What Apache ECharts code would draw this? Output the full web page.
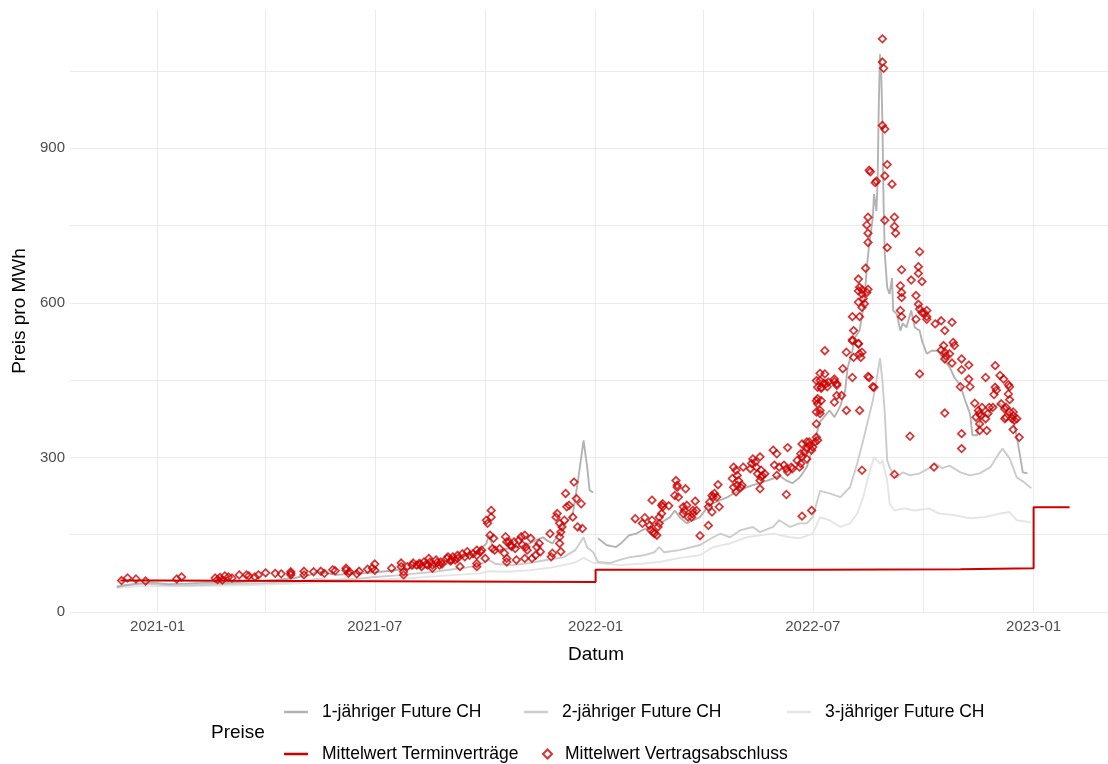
<!DOCTYPE html>
<html><head><meta charset="utf-8">
<script src="https://cdn.jsdelivr.net/npm/echarts@6/dist/echarts.min.js"></script>
<style>html,body{margin:0;padding:0;background:#fff}#chart{width:1108px;height:764px}</style>
</head><body><div id="chart"></div>
<script>
const seriesNames = ['1-jähriger Future CH','2-jähriger Future CH','3-jähriger Future CH','Mittelwert Terminverträge','Mittelwert Vertragsabschluss'];
const xRange = ['2020-10-20','2023-03-04'];
const xTickDates = ['2021-01-01','2021-04-01','2021-07-01','2021-10-01','2022-01-01','2022-04-01','2022-07-01','2022-10-01','2023-01-01'];
const xLabelDates = ['2021-01-01','2021-07-01','2022-01-01','2022-07-01','2023-01-01'];
const yTickValues = [0,150,300,450,600,750,900,1050];
const yLabelValues = [0,300,600,900];

const future1y2021 = [['2020-11-28',48],['2020-12-05',52],['2020-12-15',55],['2020-12-28',57],['2021-01-10',54],['2021-01-25',55],['2021-02-10',57],['2021-02-25',56],['2021-03-10',58],['2021-03-25',60],['2021-04-10',62],['2021-04-25',66],['2021-05-08',72],['2021-05-14',79],['2021-05-20',76],['2021-05-30',72],['2021-06-10',74],['2021-06-20',75],['2021-07-01',77],['2021-07-15',80],['2021-07-28',84],['2021-08-10',86],['2021-08-20',89],['2021-09-01',95],['2021-09-12',106],['2021-09-20',112],['2021-09-26',120],['2021-10-02',133],['2021-10-04',149],['2021-10-07',130],['2021-10-10',120],['2021-10-17',122],['2021-10-24',124],['2021-11-01',128],['2021-11-07',133],['2021-11-13',140],['2021-11-18',145],['2021-11-22',138],['2021-11-26',133],['2021-12-01',150],['2021-12-05',165],['2021-12-10',180],['2021-12-13',191],['2021-12-17',250],['2021-12-20',300],['2021-12-22',333],['2021-12-25',281],['2021-12-27',236],['2021-12-30',232]];

const future1y2022 = [['2022-01-03',143],['2022-01-10',130],['2022-01-18',126],['2022-01-23',135],['2022-01-29',149],['2022-02-04',152],['2022-02-09',159],['2022-02-15',165],['2022-02-21',172],['2022-02-25',174],['2022-03-04',184],['2022-03-08',197],['2022-03-12',184],['2022-03-18',172],['2022-03-23',178],['2022-03-29',184],['2022-04-04',203],['2022-04-09',211],['2022-04-15',217],['2022-04-21',223],['2022-04-26',230],['2022-05-02',236],['2022-05-07',242],['2022-05-12',246],['2022-05-18',250],['2022-05-24',255],['2022-05-29',259],['2022-06-03',265],['2022-06-09',255],['2022-06-14',250],['2022-06-20',261],['2022-06-26',281],['2022-07-01',319],['2022-07-07',369],['2022-07-15',391],['2022-07-19',378],['2022-07-24',400],['2022-07-28',430],['2022-07-30',474],['2022-08-03',507],['2022-08-05',532],['2022-08-09',546],['2022-08-13',604],['2022-08-15',668],['2022-08-17',714],['2022-08-20',765],['2022-08-21',811],['2022-08-23',778],['2022-08-24',836],['2022-08-25',985],['2022-08-26',1082],['2022-08-27',1049],['2022-08-28',952],['2022-08-29',792],['2022-08-30',695],['2022-09-01',629],['2022-09-03',617],['2022-09-05',648],['2022-09-06',585],['2022-09-09',578],['2022-09-12',546],['2022-09-14',560],['2022-09-17',552],['2022-09-21',585],['2022-09-24',552],['2022-09-28',546],['2022-09-30',526],['2022-10-04',501],['2022-10-08',507],['2022-10-13',507],['2022-10-17',494],['2022-10-23',475],['2022-10-27',455],['2022-11-01',440],['2022-11-05',410],['2022-11-09',385],['2022-11-11',343],['2022-11-15',343],['2022-11-17',366],['2022-11-19',391],['2022-11-23',378],['2022-11-28',397],['2022-12-04',404],['2022-12-10',391],['2022-12-15',372],['2022-12-18',339],['2022-12-20',313],['2022-12-23',271],['2022-12-27',269]];

const future2y = [['2020-11-28',50],['2020-12-10',53],['2020-12-20',55],['2021-01-10',52],['2021-01-25',52],['2021-02-15',53],['2021-03-01',54],['2021-03-20',55],['2021-04-15',57],['2021-05-01',59],['2021-05-13',64],['2021-05-25',62],['2021-06-15',64],['2021-07-01',68],['2021-07-20',71],['2021-08-01',74],['2021-08-20',78],['2021-09-01',82],['2021-09-15',86],['2021-09-26',91],['2021-10-04',101],['2021-10-10',93],['2021-10-24',91],['2021-11-07',95],['2021-11-21',101],['2021-12-05',106],['2021-12-15',120],['2021-12-22',145],['2021-12-25',125],['2021-12-30',116],['2022-01-03',97],['2022-01-13',95],['2022-01-21',101],['2022-01-29',106],['2022-02-10',110],['2022-02-19',116],['2022-02-23',126],['2022-02-27',116],['2022-03-12',120],['2022-03-29',130],['2022-04-09',145],['2022-04-15',152],['2022-04-23',145],['2022-05-02',159],['2022-05-12',165],['2022-05-18',155],['2022-05-29',165],['2022-06-03',178],['2022-06-12',165],['2022-06-20',172],['2022-06-26',172],['2022-07-01',184],['2022-07-07',235],['2022-07-15',230],['2022-07-24',223],['2022-08-01',242],['2022-08-07',288],['2022-08-12',333],['2022-08-16',372],['2022-08-20',410],['2022-08-23',449],['2022-08-26',492],['2022-08-28',449],['2022-08-30',385],['2022-09-01',294],['2022-09-03',281],['2022-09-06',269],['2022-09-09',261],['2022-09-14',271],['2022-09-20',265],['2022-09-28',269],['2022-10-06',279],['2022-10-11',288],['2022-10-17',279],['2022-10-23',284],['2022-11-01',271],['2022-11-09',265],['2022-11-17',269],['2022-11-26',281],['2022-12-01',300],['2022-12-06',317],['2022-12-12',298],['2022-12-18',261],['2022-12-24',252],['2022-12-30',240]];

const future3y = [['2020-11-28',47],['2020-12-15',50],['2021-01-15',50],['2021-02-15',51],['2021-03-15',52],['2021-04-15',54],['2021-05-15',57],['2021-06-15',59],['2021-07-01',62],['2021-08-01',66],['2021-09-01',71],['2021-09-26',75],['2021-10-04',79],['2021-10-20',78],['2021-11-07',81],['2021-11-25',86],['2021-12-05',91],['2021-12-15',96],['2021-12-22',105],['2021-12-30',95],['2022-01-03',95],['2022-01-21',91],['2022-02-10',94],['2022-02-23',97],['2022-03-12',105],['2022-03-29',110],['2022-04-09',126],['2022-04-23',133],['2022-05-07',145],['2022-05-18',149],['2022-05-29',152],['2022-06-12',145],['2022-06-20',143],['2022-07-01',152],['2022-07-07',184],['2022-07-15',178],['2022-07-24',165],['2022-08-01',172],['2022-08-07',191],['2022-08-12',223],['2022-08-17',269],['2022-08-21',300],['2022-08-26',288],['2022-08-28',294],['2022-09-01',255],['2022-09-03',211],['2022-09-07',197],['2022-09-15',201],['2022-09-24',197],['2022-10-06',201],['2022-10-14',191],['2022-10-27',188],['2022-11-09',182],['2022-11-21',184],['2022-12-04',191],['2022-12-12',194],['2022-12-18',178],['2022-12-30',174]];

const terminMean = [['2020-12-01',61],['2021-01-01',58],['2022-01-01',82],['2022-07-01',83],['2022-11-01',85],['2023-01-01',203],['2023-01-31',203]];

const abschluss = [
['2020-12-02',61],['2020-12-07',66],['2020-12-14',64],['2020-12-22',60],['2021-01-17',64],['2021-01-21',68],
['2021-02-18',66],['2021-02-20',63],['2021-02-22',67],['2021-02-24',62],['2021-02-26',70],['2021-03-01',68],['2021-03-04',66],
['2021-03-10',72],['2021-03-16',72],['2021-03-18',70],['2021-03-23',68],['2021-03-26',72],
['2021-04-01',76],['2021-04-09',75],['2021-04-14',74],['2021-04-22',72],['2021-04-22',78],['2021-04-22',75],
['2021-05-03',79],['2021-05-03',72],['2021-05-11',78],['2021-05-17',79],['2021-05-20',75],['2021-05-27',82],['2021-05-29',80],
['2021-06-07',85],['2021-06-07',81],['2021-06-09',75],['2021-06-10',78],['2021-06-16',74],['2021-06-18',79],['2021-06-25',83],['2021-06-29',85],['2021-07-01',93],['2021-07-01',81],
['2021-07-15',85],['2021-07-23',95],['2021-07-23',88],['2021-07-25',78],['2021-07-25',72],['2021-07-28',88],
['2021-08-01',91],['2021-08-02',95],['2021-08-05',91],['2021-08-07',94],['2021-08-08',93],['2021-08-09',88],['2021-08-11',97],['2021-08-13',93],['2021-08-14',91],['2021-08-15',104],['2021-08-16',97],['2021-08-18',91],['2021-08-18',85],['2021-08-21',101],['2021-08-22',96],['2021-08-24',91],['2021-08-25',97],['2021-08-26',93],['2021-08-30',104],['2021-08-31',107],
['2021-09-02',99],['2021-09-03',101],['2021-09-04',107],['2021-09-06',101],['2021-09-08',110],['2021-09-08',104],['2021-09-10',88],['2021-09-12',113],['2021-09-14',107],['2021-09-16',117],['2021-09-18',110],['2021-09-21',113],['2021-09-24',120],['2021-09-24',110],['2021-09-24',94],['2021-09-24',88],['2021-09-27',117],['2021-09-28',120],
['2021-10-01',104],['2021-10-02',178],['2021-10-03',172],['2021-10-05',149],['2021-10-06',197],['2021-10-06',184],['2021-10-08',143],['2021-10-07',123],['2021-10-09',120],['2021-10-13',123],['2021-10-17',114],['2021-10-18',146],['2021-10-19',136],['2021-10-19',97],['2021-10-19',104],['2021-10-21',136],['2021-10-22',130],['2021-10-23',127],['2021-10-25',136],['2021-10-26',123],['2021-10-27',101],['2021-10-29',139],['2021-10-31',146],
['2021-11-01',130],['2021-11-03',149],['2021-11-03',104],['2021-11-04',126],['2021-11-05',120],['2021-11-08',143],['2021-11-09',104],['2021-11-12',110],['2021-11-13',126],['2021-11-15',133],['2021-11-16',117],['2021-11-24',152],['2021-11-25',107],['2021-11-26',114],['2021-11-29',184],['2021-11-30',191],
['2021-12-02',172],['2021-12-02',146],['2021-12-02',133],['2021-12-03',117],['2021-12-03',155],['2021-12-04',165],['2021-12-06',178],['2021-12-07',230],['2021-12-08',204],['2021-12-10',207],['2021-12-13',184],['2021-12-14',252],['2021-12-16',220],['2021-12-17',165],['2021-12-20',210],['2021-12-21',162],
['2022-02-03',181],['2022-02-09',172],['2022-02-11',183],['2022-02-15',168],['2022-02-16',159],['2022-02-17',217],['2022-02-17',178],['2022-02-18',155],['2022-02-19',152],['2022-02-21',149],['2022-02-22',165],['2022-02-23',172],['2022-02-23',184],['2022-02-25',191],['2022-02-25',207],['2022-02-26',210],['2022-02-26',204],
['2022-03-03',206],['2022-03-08',226],['2022-03-09',255],['2022-03-10',246],['2022-03-10',242],['2022-03-11',223],['2022-03-15',204],['2022-03-15',191],['2022-03-16',197],['2022-03-17',239],['2022-03-18',207],['2022-03-19',184],['2022-03-22',184],['2022-03-23',197],['2022-03-23',191],['2022-03-25',215],['2022-03-26',197],['2022-03-29',148],
['2022-04-05',168],['2022-04-05',204],['2022-04-06',213],['2022-04-08',226],['2022-04-08',194],['2022-04-09',223],['2022-04-10',230],['2022-04-12',223],['2022-04-13',247],['2022-04-14',204],
['2022-04-25',259],['2022-04-26',281],['2022-04-26',242],['2022-04-28',275],['2022-04-28',233],['2022-04-29',265],['2022-04-29',246],['2022-04-30',255],['2022-05-02',242],['2022-05-03',246],['2022-05-04',281],
['2022-05-10',278],['2022-05-11',288],['2022-05-12',297],['2022-05-14',291],['2022-05-15',281],['2022-05-16',268],['2022-05-18',255],['2022-05-18',239],['2022-05-18',301],['2022-05-19',262],['2022-05-19',275],['2022-05-20',265],['2022-05-22',268],
['2022-05-29',314],['2022-05-30',285],['2022-06-01',307],['2022-06-01',265],['2022-06-03',281],['2022-06-07',285],['2022-06-09',278],['2022-06-09',228],['2022-06-10',272],['2022-06-10',319],['2022-06-13',281],['2022-06-14',278],
['2022-06-18',294],['2022-06-20',281],['2022-06-21',288],['2022-06-21',307],['2022-06-22',301],['2022-06-22',326],['2022-06-22',186],['2022-06-24',310],['2022-06-26',317],['2022-06-26',330],['2022-06-26',297],['2022-06-28',323],['2022-06-28',330],['2022-06-30',314],['2022-06-30',197],['2022-07-01',320],['2022-07-03',330],['2022-07-04',339],['2022-07-05',333],
['2022-07-04',449],['2022-07-04',410],['2022-07-04',388],['2022-07-04',365],['2022-07-05',436],['2022-07-05',404],['2022-07-05',414],['2022-07-07',385],['2022-07-07',391],['2022-07-07',449],['2022-07-07',463],['2022-07-08',410],['2022-07-08',436],['2022-07-08',434],['2022-07-10',444],['2022-07-11',462],['2022-07-11',507],['2022-07-12',443],['2022-07-13',437],['2022-07-14',446],['2022-07-19',452],['2022-07-19',407],['2022-07-19',447],['2022-07-21',443],['2022-07-21',420],['2022-07-21',440],['2022-07-25',420],['2022-07-26',472],['2022-07-29',504],['2022-07-29',391],
['2022-08-03',455],['2022-08-03',526],['2022-08-03',573],['2022-08-03',528],['2022-08-04',494],['2022-08-04',546],['2022-08-08',520],['2022-08-08',521],['2022-08-08',601],['2022-08-08',623],['2022-08-08',646],['2022-08-09',501],['2022-08-09',391],['2022-08-09',573],['2022-08-09',630],['2022-08-10',494],['2022-08-11',504],['2022-08-11',591],['2022-08-11',617],['2022-08-11',625],['2022-08-11',275],['2022-08-12',608],['2022-08-13',598],['2022-08-14',667],['2022-08-15',620],['2022-08-15',751],['2022-08-16',626],['2022-08-16',766],['2022-08-16',735],['2022-08-16',717],['2022-08-16',457],['2022-08-17',455],['2022-08-17',857],['2022-08-18',854],['2022-08-20',437],['2022-08-21',436],['2022-08-22',833],['2022-08-23',836],
['2022-08-28',1112],['2022-08-28',1067],['2022-08-29',1055],['2022-08-28',944],['2022-08-30',937],['2022-08-30',846],['2022-08-30',760],['2022-09-01',868],['2022-09-01',707],['2022-09-05',830],['2022-09-07',766],['2022-09-07',748],['2022-09-08',735],['2022-09-07',267],
['2022-09-12',633],['2022-09-12',585],['2022-09-13',620],['2022-09-13',610],['2022-09-13',573],['2022-09-13',664],['2022-09-20',341],['2022-09-21',644],['2022-09-25',614],['2022-09-25',568],['2022-09-27',670],['2022-09-27',657],['2022-09-27',597],['2022-09-28',699],['2022-09-28',588],['2022-09-28',462],['2022-09-30',641],['2022-09-30',581],['2022-10-02',580],['2022-10-04',585],['2022-10-04',568],['2022-10-04',573],
['2022-10-10',281],['2022-10-11',559],['2022-10-16',565],['2022-10-16',508],['2022-10-18',517],['2022-10-19',546],['2022-10-19',504],['2022-10-19',491],['2022-10-19',386],['2022-10-20',497],['2022-10-23',501],['2022-10-25',562],['2022-10-25',483],['2022-10-26',523],['2022-10-27',517],
['2022-11-01',437],['2022-11-02',491],['2022-11-02',470],['2022-11-02',346],['2022-11-02',317],['2022-11-08',479],['2022-11-08',452],['2022-11-09',437],
['2022-11-13',405],['2022-11-14',378],['2022-11-16',391],['2022-11-17',385],['2022-11-17',365],['2022-11-17',352],['2022-11-18',381],['2022-11-19',397],['2022-11-22',375],['2022-11-22',455],['2022-11-23',352],['2022-11-24',385],['2022-11-25',397],['2022-11-28',397],['2022-11-29',422],['2022-11-30',478],['2022-11-30',436],['2022-12-01',430],
['2022-12-04',459],['2022-12-05',404],['2022-12-07',452],['2022-12-08',375],['2022-12-08',394],['2022-12-09',397],['2022-12-09',378],['2022-12-11',441],['2022-12-11',423],['2022-12-12',437],['2022-12-12',412],['2022-12-12',388],['2022-12-14',375],['2022-12-15',381],['2022-12-15',354],['2022-12-15',388],['2022-12-16',372],['2022-12-18',375],['2022-12-20',339]
];

const FONT = '"Liberation Sans", Arial, sans-serif';
const GRID = '#EBEBEB';
const RED = '#CD0000';
const GREYS = ['#B3B3B3', '#CCCCCC', '#E5E5E5'];

function ts(s) {
  const p = s.split('-').map(Number);
  return new Date(p[0], p[1] - 1, p[2]).getTime();
}
function toXY(arr) { return arr.map(d => [ts(d[0]), d[1]]); }
function fmtMonth(v) {
  const d = new Date(v);
  return d.getFullYear() + '-' + String(d.getMonth() + 1).padStart(2, '0');
}

const chart = echarts.init(document.getElementById('chart'), null, {renderer: 'canvas'});

const legendText = {fontFamily: FONT, fontSize: 17.5, color: '#000', padding: [0, 0, 0, 9]};
const lineLegend = (name, left, top) => ({
  orient: 'horizontal', padding: 0, selectedMode: false,
  left, top, itemWidth: 24, itemHeight: 2.5,
  data: [{name, icon: 'rect'}],
  textStyle: legendText
});

const lineSeries = (name, data, color, z) => ({
  name, type: 'line', data: toXY(data), symbol: 'none', showSymbol: false, z,
  lineStyle: {color, width: 1.9}, itemStyle: {color}, animation: false
});

const option = {
  animation: false,
  backgroundColor: '#fff',
  grid: {left: 70, right: 0, top: 10, bottom: 152, containLabel: false},
  xAxis: {
    type: 'value',
    min: ts(xRange[0]), max: ts(xRange[1]),
    name: 'Datum', nameLocation: 'middle', nameGap: 33,
    nameTextStyle: {fontFamily: FONT, fontSize: 19, color: '#000', padding: [0, 0, 0, 14]},
    axisLine: {show: false},
    axisTick: {show: false, customValues: xTickDates.map(ts)},
    axisLabel: {customValues: xLabelDates.map(ts), formatter: fmtMonth, fontFamily: FONT, fontSize: 15, color: '#4D4D4D', margin: 7},
    splitLine: {show: true, lineStyle: {color: GRID, width: 1}}
  },
  yAxis: {
    type: 'value', min: 0, max: 1168, interval: 150,
    name: 'Preis pro MWh', nameLocation: 'middle', nameGap: 40,
    nameTextStyle: {fontFamily: FONT, fontSize: 19, color: '#000'},
    axisLine: {show: false},
    axisTick: {show: false, customValues: yTickValues},
    axisLabel: {customValues: yLabelValues, fontFamily: FONT, fontSize: 15, color: '#4D4D4D', margin: 5,
      formatter: v => (v % 300 === 0 ? String(v) : '')},
    splitLine: {show: true, lineStyle: {color: [GRID, GRID, GRID, GRID, GRID, GRID, GRID, GRID, 'rgba(0,0,0,0)'], width: 1}}
  },
  legend: [
    lineLegend(seriesNames[0], 284, 703),
    lineLegend(seriesNames[1], 524, 703),
    lineLegend(seriesNames[2], 787, 703),
    lineLegend(seriesNames[3], 284, 745),
    {
      orient: 'horizontal', padding: 0, selectedMode: false,
      left: 542, top: 745, itemWidth: 9, itemHeight: 9,
      data: [seriesNames[4]],
      textStyle: {fontFamily: FONT, fontSize: 17.5, color: '#000', padding: [0, 0, 0, 8]}
    }
  ],
  graphic: [{
    type: 'text', left: 211, top: 723,
    style: {text: 'Preise', fontFamily: FONT, fontSize: 19, fill: '#000'}
  }],
  series: [
    lineSeries(seriesNames[2], future3y, GREYS[2], 2),
    lineSeries(seriesNames[1], future2y, GREYS[1], 3),
    lineSeries(seriesNames[0], future1y2021, GREYS[0], 4),
    lineSeries(seriesNames[0], future1y2022, GREYS[0], 4),
    Object.assign(lineSeries(seriesNames[3], terminMean, RED, 5), {step: 'end', lineStyle: {color: RED, width: 2}}),
    {
      name: seriesNames[4], type: 'scatter', data: toXY(abschluss), z: 6,
      symbol: 'diamond', symbolSize: 7.5,
      itemStyle: {color: 'rgba(255,255,255,0)', borderColor: RED, borderWidth: 1.7},
      animation: false
    }
  ]
};
chart.setOption(option);
</script>
</body></html>
